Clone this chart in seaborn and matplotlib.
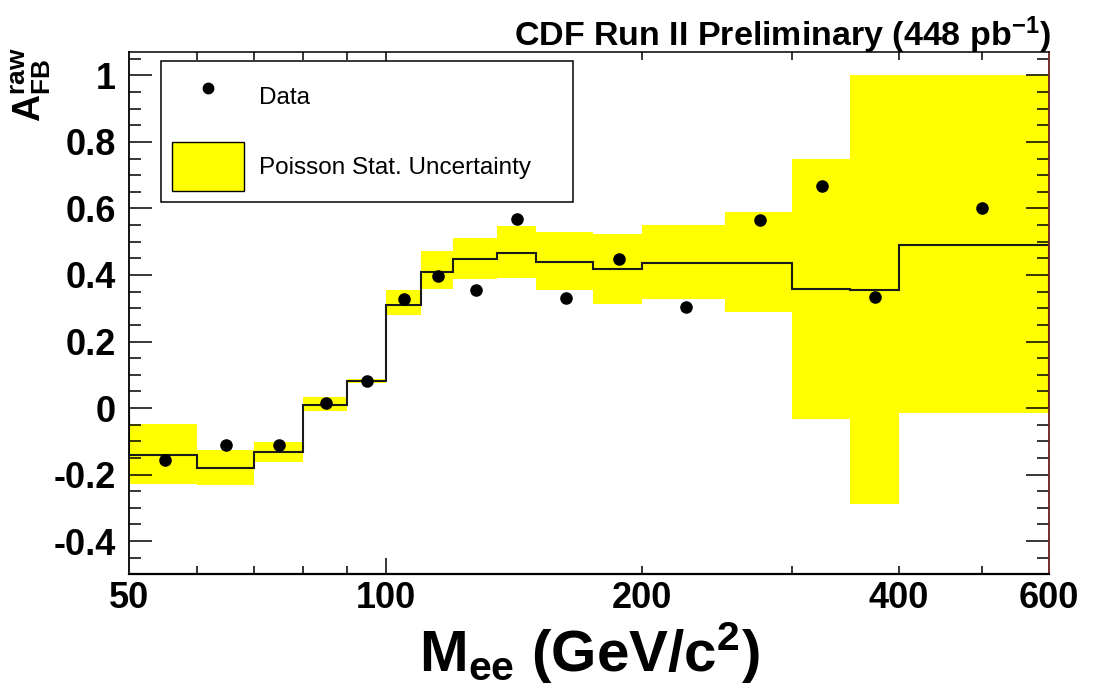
import numpy as np
import pandas as pd
import matplotlib
matplotlib.use("Agg")
import matplotlib.pyplot as plt
from matplotlib.lines import Line2D
from matplotlib.patches import Patch
from matplotlib.ticker import FixedLocator, MultipleLocator, FuncFormatter, NullFormatter
import seaborn as sns

# Dielectron mass bins (GeV/c^2)
mass_edges = [50, 60, 70, 80, 90, 100, 110, 120, 135, 150, 175, 200, 250, 300, 350, 400, 600]
# Measured raw forward-backward asymmetry per bin
afb_data = [-0.155, -0.111, -0.111, 0.015, 0.081, 0.329, 0.397, 0.356,
            0.569, 0.330, 0.449, 0.304, 0.564, 0.667, 0.334, 0.600]
# Expected asymmetry (histogram)
afb_expected = [-0.141, -0.180, -0.133, 0.010, 0.081, 0.311, 0.410, 0.448,
                0.467, 0.440, 0.419, 0.437, 0.437, 0.357, 0.354, 0.490]
# Poisson statistical uncertainty band
band_upper = [-0.048, -0.125, -0.101, 0.032, 0.088, 0.355, 0.472, 0.510,
              0.547, 0.530, 0.523, 0.550, 0.589, 0.749, 1.000, 1.000]
band_lower = [-0.228, -0.230, -0.161, -0.008, 0.074, 0.279, 0.357, 0.387,
              0.390, 0.355, 0.314, 0.327, 0.289, -0.033, -0.290, -0.015]

x_tick_values = [50, 100, 200, 400, 600]
x_minor_values = [60, 70, 80, 90, 300, 500]

sns.set_theme(style="ticks")
plt.rcParams["font.family"] = ["Liberation Sans", "DejaVu Sans"]
plt.rcParams["mathtext.fontset"] = "custom"
plt.rcParams["mathtext.rm"] = "Liberation Sans"
plt.rcParams["mathtext.bf"] = "Liberation Sans:bold"
plt.rcParams["mathtext.it"] = "Liberation Sans:italic"
plt.rcParams["mathtext.sf"] = "Liberation Sans"
plt.rcParams["text.color"] = "black"

edges = np.array(mass_edges, dtype=float)
lo, hi = edges[:-1], edges[1:]
df = pd.DataFrame({
    "mass": (lo + hi) / 2.0,
    "afb": afb_data,
})

fig = plt.figure(figsize=(10.98, 6.87), dpi=100)
fig.patch.set_facecolor("white")
ax = fig.add_axes([129.3 / 1098, 1 - 574.3 / 687, (1049 - 129.3) / 1098, (574.3 - 52.3) / 687])
ax.set_facecolor("white")
ax.set_xscale("log")

# uncertainty band
ax.bar(lo, np.array(band_upper) - np.array(band_lower), bottom=band_lower,
       width=hi - lo, align="edge", color="#FFFF00", edgecolor="none", linewidth=0, zorder=1)
# expected asymmetry histogram
ax.stairs(afb_expected, edges, color="#1a1a1a", linewidth=1.5, zorder=2)
# data points
sns.scatterplot(data=df, x="mass", y="afb", ax=ax, color="black", s=82,
                edgecolor="black", linewidth=0, zorder=3, legend=False)

ax.set_xlim(50, 600)
ax.set_ylim(-0.5, 1.0696)
ax.set_axisbelow(False)

# x axis ticks
ax.xaxis.set_major_locator(FixedLocator(x_tick_values))
ax.xaxis.set_major_formatter(FuncFormatter(lambda v, p: f"{v:g}"))
ax.xaxis.set_minor_locator(FixedLocator(x_minor_values))
ax.xaxis.set_minor_formatter(NullFormatter())

# y axis ticks
ax.yaxis.set_major_locator(MultipleLocator(0.2))
ax.yaxis.set_minor_locator(MultipleLocator(0.05))


def yfmt(v, p):
    r = round(v, 1)
    if abs(r) < 1e-9:
        return "0"
    return f"{r:g}"


ax.yaxis.set_major_formatter(FuncFormatter(yfmt))

ax.tick_params(axis="both", which="both", direction="in", top=True, right=True,
               color="black", width=1.1, labelcolor="black")
ax.tick_params(axis="x", which="major", length=5.8, pad=5, labelsize=26)
ax.tick_params(axis="x", which="minor", length=5.8)
ax.tick_params(axis="y", which="major", length=16.6, pad=9.5, labelsize=26)
ax.tick_params(axis="y", which="minor", length=8.6)
for lab in ax.get_xticklabels() + ax.get_yticklabels():
    lab.set_fontweight("bold")

# decade tick longer, edge ticks hidden
fig.canvas.draw()
for val, tick in zip(x_tick_values, ax.xaxis.get_major_ticks()):
    if val == 100:
        tick.tick1line.set_markersize(11.5)
        tick.tick2line.set_markersize(11.5)
    elif val in (50, 600):
        tick.tick1line.set_markersize(0)
        tick.tick2line.set_markersize(0)

for side in ["left", "bottom", "top"]:
    ax.spines[side].set_color("black")
ax.spines["left"].set_linewidth(1.3)
ax.spines["bottom"].set_linewidth(1.6)
ax.spines["top"].set_linewidth(1.1)
ax.spines["right"].set_linewidth(1.3)
ax.spines["right"].set_color("#6b1e1e")
for s in ax.spines.values():
    s.set_zorder(5)

ax.set_xlabel("")
ax.set_ylabel("")

# legend
handles = [
    Line2D([], [], marker="o", linestyle="none", color="black", markersize=7.5),
    Patch(facecolor="#FFFF00", edgecolor="black", linewidth=1.0),
]
labels = ["Data", "Poisson Stat. Uncertainty"]
leg = ax.legend(handles, labels, loc="upper left",
                bbox_to_anchor=(0.0345, 0.9833 - 0.3, 0.448, 0.3), mode="expand",
                frameon=True, fancybox=False, shadow=False, framealpha=1,
                edgecolor="black", fontsize=17.5, handlelength=2.96, handleheight=2.73,
                labelspacing=0.85, borderpad=0.45, handletextpad=0.62, borderaxespad=0)
leg.get_frame().set_linewidth(1.1)
leg.set_zorder(6)

# titles
fig.text(1051 / 1098, 1 - 46 / 687, r"CDF Run II Preliminary (448 pb$^{\mathbf{-1}}$)",
         ha="right", va="baseline", fontsize=24.5, fontweight="bold", color="black")
fig.text(589 / 1098, 1 - 672 / 687, r"$\mathbf{M}_{\mathbf{ee}}$ (GeV/c$^{\mathbf{2}}$)",
         ha="center", va="baseline", fontsize=42, fontweight="bold", color="black")
fig.text(31 / 1098, 1 - 47 / 687, r"$\mathbf{A}_{\mathbf{FB}}^{\mathbf{raw}}$",
         ha="center", va="top", rotation=90, fontsize=27, color="black")

fig.savefig("out.png", dpi=100, facecolor="white")
